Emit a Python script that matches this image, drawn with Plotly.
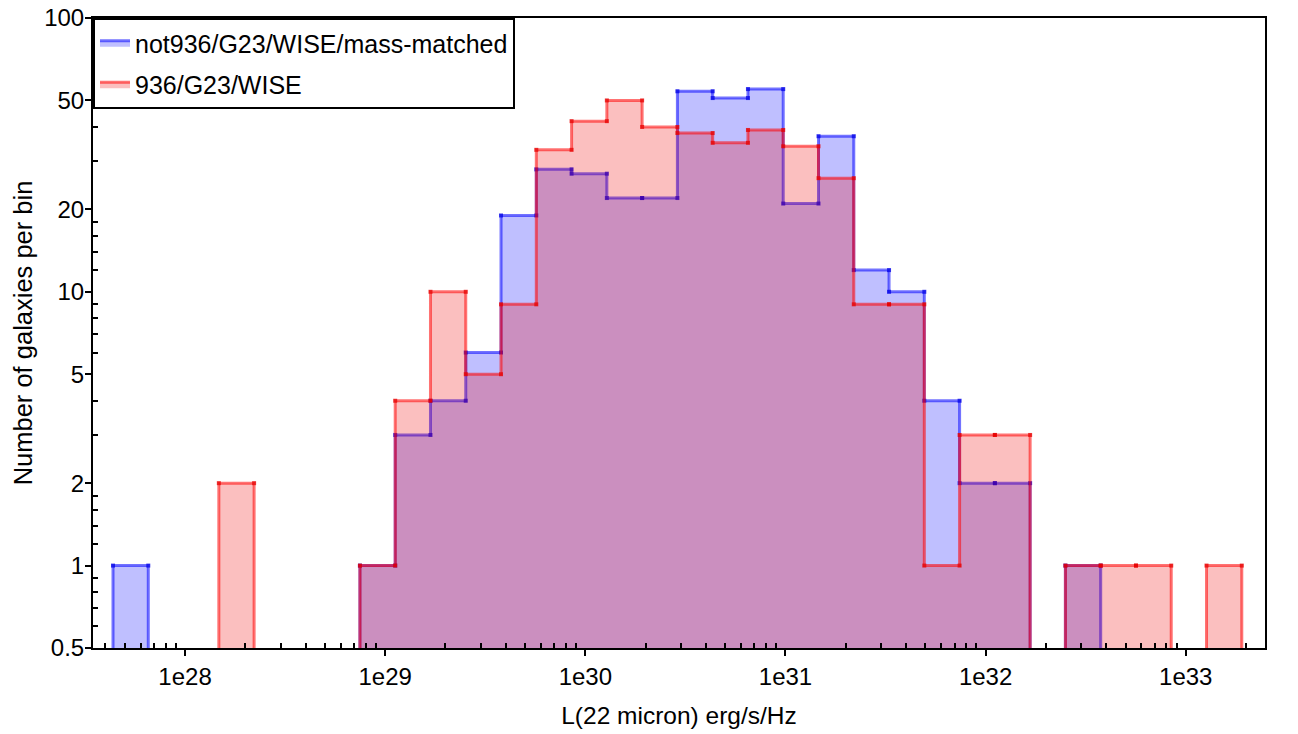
import numpy as np
import plotly.graph_objects as go

# ---------------- data ----------------
log_lum_min = 27.64      # lower edge of the first bin, log10(L)
log_lum_max = 33.28      # upper edge of the last bin, log10(L)
n_bins = 32

counts_not936 = [1, 0, 0, 0, 0, 0, 0, 1, 3, 4, 6, 19, 28, 27, 22, 22,
                 54, 51, 55, 21, 37, 12, 10, 4, 2, 2, 0, 1, 0, 0, 0, 0]
counts_936 = [0, 0, 0, 2, 0, 0, 0, 1, 4, 10, 5, 9, 33, 42, 50, 40,
              38, 35, 39, 34, 26, 9, 9, 1, 3, 3, 0, 1, 1, 1, 0, 1]

series_names = ["not936/G23/WISE/mass-matched", "936/G23/WISE"]

x_tick_vals = [1e28, 1e29, 1e30, 1e31, 1e32, 1e33]
x_tick_text = ["1e28", "1e29", "1e30", "1e31", "1e32", "1e33"]
x_minor_vals = [m * 10.0 ** d for d in range(27, 34) for m in range(2, 10)]

y_tick_vals = [0.5, 1, 2, 5, 10, 20, 50, 100]
y_tick_text = ["0.5", "1", "2", "5", "10", "20", "50", "100"]
y_minor_vals = [m * 10.0 ** d for d in range(-1, 2)
                for m in (1.2, 1.4, 1.6, 1.8, 3, 4, 6, 7, 8, 9)]

# ---------------- build step outlines ----------------
edges = np.logspace(log_lum_min, log_lum_max, n_bins + 1)
FLOOR = 0.05  # below visible range so sides run to the axis


def step_paths(counts):
    xs, ys, mx, my = [], [], [], []
    n = len(counts)
    i = 0
    while i < n:
        if counts[i] <= 0:
            i += 1
            continue
        j = i
        xs.append(edges[i]); ys.append(FLOOR)
        while j < n and counts[j] > 0:
            xs += [edges[j], edges[j + 1]]
            ys += [counts[j], counts[j]]
            mx += [edges[j], edges[j + 1]]
            my += [counts[j], counts[j]]
            j += 1
        xs.append(edges[j]); ys.append(FLOOR)
        xs.append(None); ys.append(None)
        i = j
    return xs, ys, mx, my


styles = [
    dict(line="rgba(0,0,255,0.55)", fill="rgba(0,0,255,0.25)", mark="rgba(0,0,230,0.75)"),
    dict(line="rgba(255,0,0,0.55)", fill="rgba(240,0,0,0.25)", mark="rgba(230,0,0,0.75)"),
]

fig = go.Figure()
for k, (counts, name, st) in enumerate(zip([counts_not936, counts_936], series_names, styles)):
    xs, ys, mx, my = step_paths(counts)
    fig.add_trace(go.Scatter(
        x=xs, y=ys, mode="lines", fill="toself", fillcolor=st["fill"],
        line=dict(color=st["line"], width=3), name=name, hoverinfo="skip",
        legendgroup=f"g{k}",
    ))
    fig.add_trace(go.Scatter(
        x=mx, y=my, mode="markers", showlegend=False, hoverinfo="skip",
        legendgroup=f"g{k}",
        marker=dict(symbol="square", size=4, color=st["mark"], line=dict(width=0)),
    ))

FONT = "Liberation Sans, Arial, Helvetica, sans-serif"

fig.update_layout(
    width=1298, height=734,
    margin=dict(l=93, r=33, t=18, b=86),
    paper_bgcolor="white", plot_bgcolor="white",
    font=dict(family=FONT, size=24, color="black"),
    showlegend=True,
    legend=dict(
        x=0, y=1, xanchor="left", yanchor="top",
        bgcolor="white", bordercolor="black", borderwidth=2,
        font=dict(family=FONT, size=25, color="black"),
        itemwidth=30, tracegroupgap=6,
    ),
)

fig.update_xaxes(
    type="log", range=[27.54, 33.396], automargin=False,
    showline=True, linecolor="black", linewidth=2, mirror=True,
    showgrid=False, zeroline=False,
    tickmode="array", tickvals=x_tick_vals, ticktext=x_tick_text,
    ticks="outside", ticklen=6, tickwidth=2, tickcolor="black",
    tickfont=dict(family=FONT, size=24, color="black"),
    minor=dict(tickmode="array", tickvals=x_minor_vals, ticks="inside",
               ticklen=5, tickwidth=2, tickcolor="black", showgrid=False),
    title=dict(text="L(22 micron) erg/s/Hz", font=dict(family=FONT, size=24.5, color="black"),
               standoff=18),
)

fig.update_yaxes(
    type="log", range=[np.log10(0.5), 2], automargin=False,
    showline=True, linecolor="black", linewidth=2, mirror=True,
    showgrid=False, zeroline=False,
    tickmode="array", tickvals=y_tick_vals, ticktext=y_tick_text,
    ticks="outside", ticklen=6, tickwidth=2, tickcolor="black",
    tickfont=dict(family=FONT, size=24, color="black"),
    ticklabelstandoff=-4,
    minor=dict(tickmode="array", tickvals=y_minor_vals, ticks="inside",
               ticklen=5, tickwidth=2, tickcolor="black", showgrid=False),
    title=dict(text="Number of galaxies per bin", font=dict(family=FONT, size=25.5, color="black"),
               standoff=4),
)

fig.write_html("out.html")
